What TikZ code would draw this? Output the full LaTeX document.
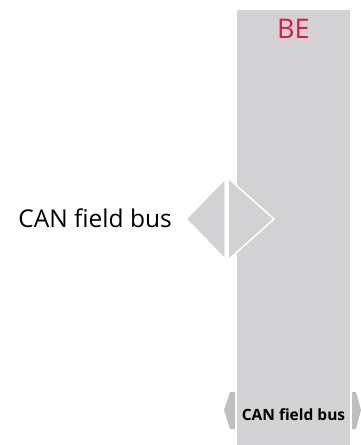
\documentclass[tikz,border=0pt]{standalone}
\usepackage{fontspec}
\setmainfont{Open Sans}
\usepackage{xcolor}
\usetikzlibrary{positioning}

\definecolor{busgray}{HTML}{D2D2D4}
\definecolor{tipgray}{HTML}{BFBFC2}
\definecolor{bered}{HTML}{E3173E}

\begin{document}
\begin{tikzpicture}[
			x=1pt, y=-1pt,
			column/.style={fill=busgray},
			half/.style={fill=busgray, draw=white, line width=1.5pt},
			tip/.style={fill=tipgray},
			label/.style={inner sep=0pt, font=\fontsize{24.5}{28}\selectfont},
			buslabel/.style={inner sep=0pt, font=\bfseries\fontsize{15.5}{18}\selectfont}
			]
			
			\useasboundingbox (0,0) rectangle (361,445);
			
			\fill[column] (237,10) rectangle (350,445);
			\node[label, text=bered, anchor=base, font=\fontsize{27}{30}\selectfont] (be) at (293.5,38) {BE};
			
			\fill[half] (186,219) -- (225,179) -- (225,259) -- cycle;
			\filldraw[half] (228,178) -- (274,219) -- (228,260) -- cycle;
			\node[label, anchor=base east] (can) at (172,227) {CAN field bus};
			
			\fill[tip] (235,392) -- (230,392) -- (224,410) -- (230,429) -- (235,429) -- cycle;
			\fill[tip] (352,392) -- (356,392) -- (361,410) -- (356,429) -- (352,429) -- cycle;
			\node[buslabel, anchor=base] (bus) at (293.5,420) {CAN field bus};
			
		\end{tikzpicture}
\end{document}
